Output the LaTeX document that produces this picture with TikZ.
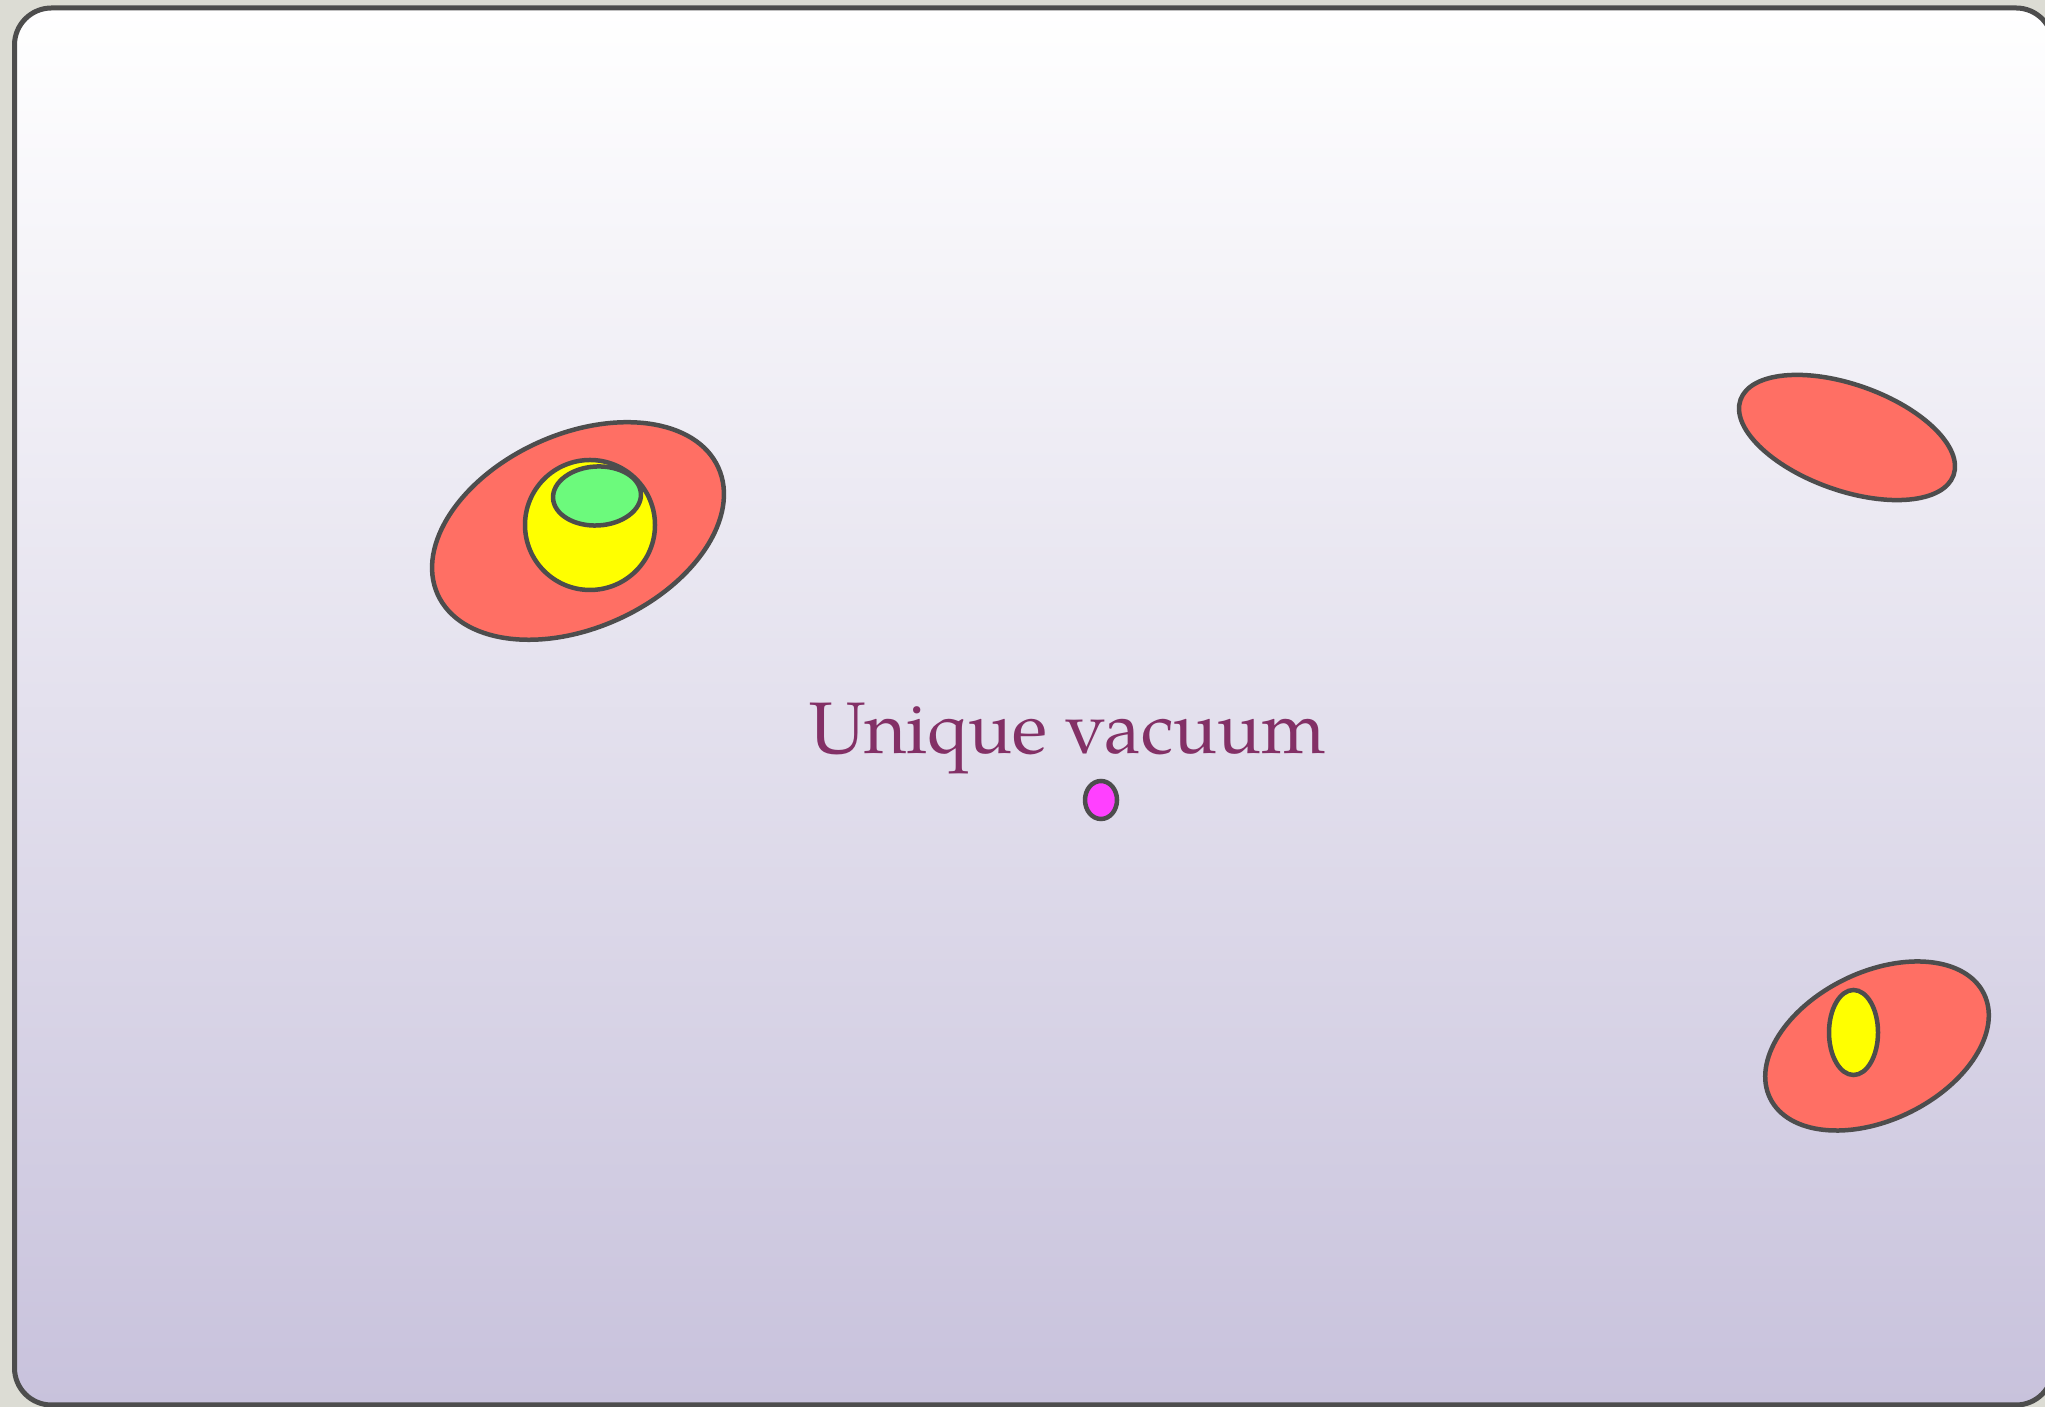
\documentclass[tikz,border=0pt]{standalone}
\usepackage{fontspec}
\setmainfont{TeX Gyre Pagella}
\definecolor{outerbg}{RGB}{220,220,212}
\definecolor{framec}{RGB}{77,77,77}
\definecolor{lavbot}{RGB}{200,194,220}
\definecolor{redf}{RGB}{255,111,100}
\definecolor{yelf}{RGB}{255,255,0}
\definecolor{grnf}{RGB}{108,250,124}
\definecolor{magf}{RGB}{255,64,255}
\definecolor{txtc}{RGB}{131,48,102}
\tikzset{
  blob/.style={draw=framec, line width=4.5pt},
}
\begin{document}
\begin{tikzpicture}[x=1pt,y=1pt]
\useasboundingbox (0,0) rectangle (2045,1407);
\fill[outerbg] (0,0) rectangle (2045,1407);
\shade[top color=white, bottom color=lavbot, rounded corners=37pt] (14.5,2) rectangle (2053,1399);
\draw[framec, line width=5pt, rounded corners=37pt] (14.5,2) rectangle (2053,1399);
% left group
\draw[blob, fill=redf, rotate around={24.3:(578,876)}] (578,876) ellipse [x radius=154pt, y radius=97pt];
\draw[blob, fill=yelf] (590,882) circle [radius=65pt];
\draw[blob, fill=grnf, rotate around={3:(597,911)}] (597,911) ellipse [x radius=44pt, y radius=29.5pt];
% top right
\draw[blob, fill=redf, rotate around={-19.5:(1847,969.5)}] (1847,969.5) ellipse [x radius=113pt, y radius=53pt];
% bottom right
\draw[blob, fill=redf, rotate around={26:(1877,361)}] (1877,361) ellipse [x radius=119pt, y radius=74pt];
\draw[blob, fill=yelf] (1853.5,374.5) ellipse [x radius=24.5pt, y radius=42.5pt];
% vacuum
\node[anchor=base, text=txtc, font=\fontsize{73}{80}\selectfont, inner sep=0pt] (label) at (1068,653) {Unique vacuum};
\draw[blob, fill=magf] (1101,607) ellipse [x radius=16pt, y radius=19pt];
\end{tikzpicture}
\end{document}
